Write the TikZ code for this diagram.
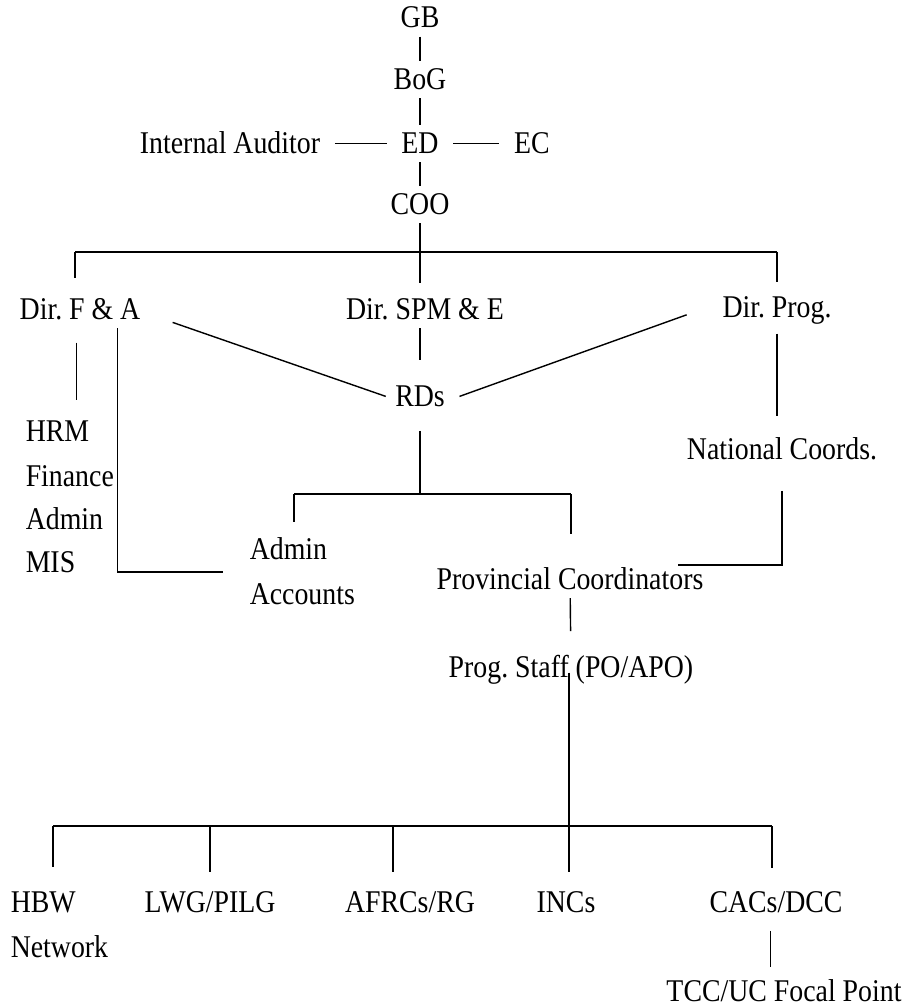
\documentclass[tikz,border=0pt]{standalone}
\usepackage{fontspec}
\setmainfont{Liberation Serif}[FakeStretch=0.88]
\usetikzlibrary{calc}
\frenchspacing

\begin{document}
\begin{tikzpicture}[
  x=0.02cm, y=-0.02cm, line width=0.8pt,
  lbl/.style  = {inner xsep=8pt, inner ysep=4.5pt, text height=11.5pt, text depth=0pt,
                 anchor=base, font=\fontsize{18}{21}\selectfont},
  lblw/.style = {lbl, anchor=base west},
]
  \path[use as bounding box, fill=white] (0,0) rectangle (908,1006);

  % top of the chart
  \node[lbl] (GB)  at (420,28)    {GB};
  \node[lbl] (BoG) at (420,89.5)  {BoG};
  \node[lbl] (ED)  at (420,153.5) {ED};
  \node[lbl] (IA)  at (230,153.5) {Internal Auditor};
  \node[lbl] (EC)  at (532,153.5) {EC};
  \node[lbl] (COO) at (420,214.5) {COO};

  % directors
  \node[lbl] (FA)  at (80,319.5)  {Dir. F \& A};
  \node[lbl] (SPM) at (425,319.5) {Dir. SPM \& E};
  \node[lbl] (DP)  at (777,317)   {Dir. Prog.};
  \node[lbl] (RDs) at (420,406.5) {RDs};

  \node[lblw] (HRM) at (11,441.5) {HRM};
  \node[lblw] (Fin) at (11,486.5) {Finance};
  \node[lblw] (Adm) at (11,529.5) {Admin};
  \node[lblw] (MIS) at (11,572.5) {MIS};

  \node[lblw] (AAdm) at (235,559.5) {Admin};
  \node[lblw] (AAcc) at (235,604.5) {Accounts};
  \node[lbl]  (PC)   at (570,589.5) {Provincial Coordinators};
  \node[lbl]  (NC)   at (782,459.5) {National Coords.};
  \node[lbl]  (PS)   at (571,677.5) {Prog. Staff (PO/APO)};

  % field level
  \node[lblw] (HBW)  at (-4,912.5)  {HBW};
  \node[lblw] (Net)  at (-4,957.5)  {Network};
  \node[lbl]  (LWG)  at (210,912.5) {LWG/PILG};
  \node[lbl]  (AFRC) at (410,912.5) {AFRCs/RG};
  \node[lbl]  (INC)  at (566,912.5) {INCs};
  \node[lbl]  (CAC)  at (776,912.5) {CACs/DCC};
  \node[lbl]  (TCC)  at (784,1001.5) {TCC/UC Focal Point};

  \draw (GB)  -- (BoG);
  \draw (BoG) -- (ED);
  \draw (ED)  -- (COO);
  \draw (IA)  -- (ED);
  \draw (ED)  -- (EC);

  \coordinate (bus)  at (420,252);
  \coordinate (busL) at (75,252);
  \coordinate (busR) at (777,252);
  \draw (COO) -- (bus);
  \draw (busL) -- (busR);
  \draw[shorten >=7.5pt] (busL) -- (busL |- FA.north);
  \draw[shorten >=4.5pt] (bus)  -- (bus |- SPM.north);
  \draw[shorten >=3.5pt] (busR) -- (busR |- DP.north);

  \draw ([xshift=10pt,yshift=-7.4pt]FA.east) -- ([xshift=3pt]RDs.west);
  \draw ([xshift=-12pt,yshift=-4.5pt]DP.west) -- (RDs.east);
  \draw[shorten >=10pt] (RDs |- SPM.south) -- (RDs.north);

  \coordinate (bus2)  at (420,494);
  \coordinate (bus2L) at (294,494);
  \coordinate (bus2R) at (571,494);
  \draw[shorten <=9pt] (RDs) -- (bus2);
  \draw (bus2L) -- (bus2R);
  \draw[shorten >=5pt]  (bus2L) -- (bus2L |- AAdm.north);
  \draw[shorten >=15pt] (bus2R) -- (bus2R |- PC.north);

  % F & A side
  \draw[shorten <=8.3pt, shorten >=7.5pt] ([xshift=-2pt]FA.south) -- ([xshift=-2pt]FA.south |- HRM.north);
  \draw[shorten >=7pt] ([xshift=21.5pt]FA.south) |- ($(AAdm.west)!0.5!(AAcc.west)$);

  % Dir. Prog. side
  \draw[shorten <=4.6pt, shorten >=8.2pt] (DP.south) -- (DP.south |- NC.north);
  \draw[shorten <=12.9pt] (NC.south) |- ([xshift=-23pt,yshift=-2.5pt]PC.north east);
  \draw[shorten >=10pt] (PC) -- (PS);

  \coordinate (bus3)  at (569,826);
  \coordinate (bus3L) at (53,826);
  \coordinate (bus3R) at (772,826);
  \coordinate (bus3a) at (210,826);
  \coordinate (bus3b) at (393,826);
  \draw ($(bus3 |- PS.base)+(0,-5)$) -- (bus3);
  \draw (bus3L) -- (bus3R);
  \draw[shorten >=9.3pt] (bus3L) -- (bus3L |- HBW.north);
  \draw[shorten >=6.5pt] (bus3a) -- (bus3a |- LWG.north);
  \draw[shorten >=6.5pt] (bus3b) -- (bus3b |- AFRC.north);
  \draw[shorten >=6.5pt] (bus3)  -- (bus3 |- INC.north);
  \draw[shorten >=8.8pt] (bus3R) -- (bus3R |- CAC.north);
  \draw[shorten <=5.5pt, shorten >=3.2pt] ([xshift=-3pt]CAC.south) -- ([xshift=-3pt]CAC.south |- TCC.north);
\end{tikzpicture}
\end{document}
